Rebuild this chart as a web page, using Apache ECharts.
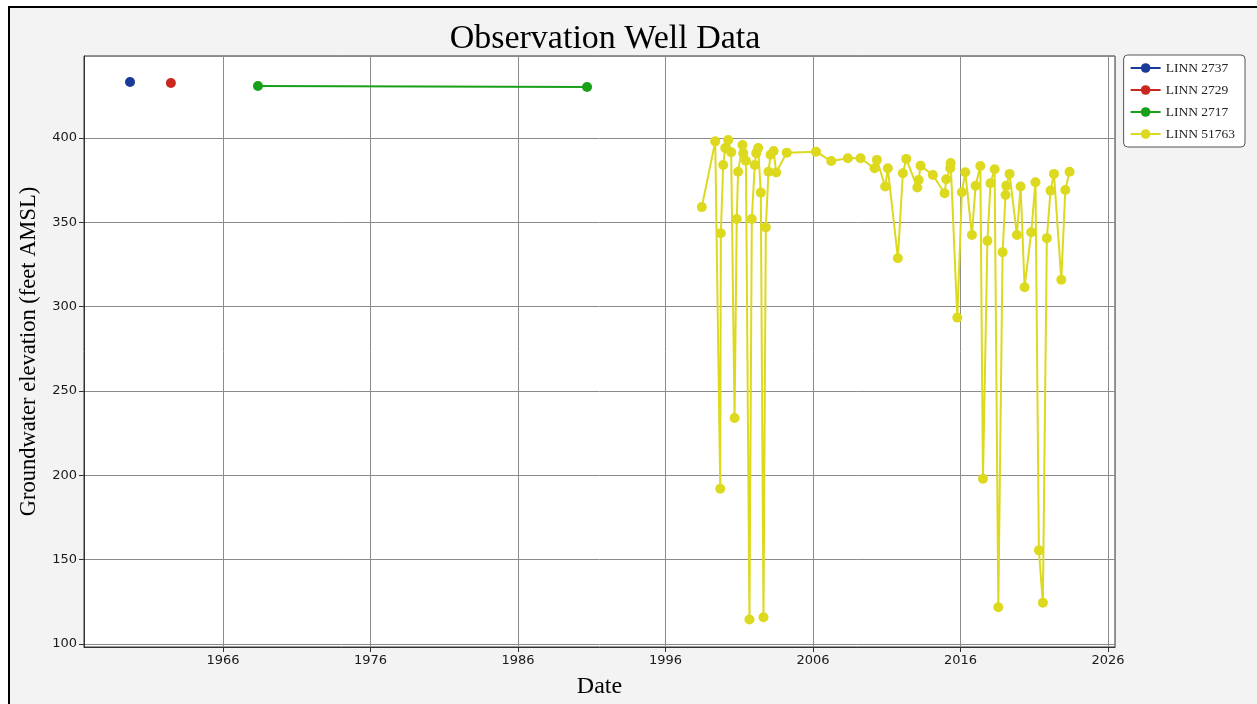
<!DOCTYPE html>
<html>
<head>
<meta charset="utf-8">
<title>Observation Well Data</title>
<script src="https://cdn.jsdelivr.net/npm/echarts@6/dist/echarts.min.js"></script>
<style>
  html, body { margin: 0; padding: 0; background: #fff; }
  #frame {
    position: absolute; left: 8px; top: 6px; width: 1249px; height: 698px;
    border-left: 2px solid #000; border-top: 2px solid #000; background: #f3f3f3;
  }
  #chart { position: absolute; left: 0; top: 0; width: 1257px; height: 704px; }
</style>
</head>
<body>
<div id="frame"></div>
<div id="chart"></div>
<script>
// dates as decimal years, levels in feet AMSL
const well2737Dates = [1959.7];
const well2737Levels = [433.2];

const well2729Dates = [1962.47];
const well2729Levels = [432.6];

const well2717Dates = [1968.37, 1990.68];
const well2717Levels = [430.8, 430.2];

const well51763Dates = [
  1998.46, 1999.37, 1999.71, 1999.75, 1999.91, 2000.05, 2000.25, 2000.45, 2000.68, 2000.83,
  2000.92, 2001.22, 2001.27, 2001.45, 2001.69, 2001.85, 2002.05, 2002.15, 2002.28, 2002.46,
  2002.64, 2002.80, 2002.98, 2003.12, 2003.33, 2003.50, 2004.22, 2006.20, 2007.23, 2008.36,
  2009.22, 2010.17, 2010.33, 2010.89, 2011.07, 2011.75, 2012.09, 2012.32, 2013.07, 2013.16,
  2013.29, 2014.12, 2014.92, 2015.03, 2015.30, 2015.33, 2015.78, 2016.09, 2016.32, 2016.77,
  2017.02, 2017.34, 2017.52, 2017.82, 2018.03, 2018.31, 2018.56, 2018.85, 2019.05, 2019.10,
  2019.32, 2019.82, 2020.07, 2020.34, 2020.79, 2021.08, 2021.31, 2021.58, 2021.85, 2022.10,
  2022.33, 2022.83, 2023.10, 2023.39
];
const well51763Levels = [
  359, 398, 192, 343.5, 384, 394, 398.8, 391.6, 234, 352,
  380, 395.8, 391, 386.5, 114.5, 352, 384, 391, 394, 367.6,
  115.8, 347, 380, 390, 392.3, 379.5, 391.3, 391.9, 386.3, 388,
  388, 382, 387, 371.2, 382, 328.7, 379.1, 387.6, 370.6, 375.1,
  383.6, 378, 367.2, 375.5, 382, 385.2, 293.5, 367.8, 379.7, 342.5,
  371.7, 383.4, 198, 339, 373.2, 381.5, 121.8, 332.3, 366.2, 371.6,
  378.7, 342.5, 371.2, 311.5, 344.1, 373.8, 155.5, 124.4, 340.6, 368.8,
  378.7, 315.9, 369.2, 380
];

const seriesNames = ['LINN 2737', 'LINN 2729', 'LINN 2717', 'LINN 51763'];

// x axis runs in years after BASE_YEAR so the decade ticks land on 1966, 1976, ...
const BASE_YEAR = 1956;
const X_MIN = 1956.58, X_MAX = 2026.47;
const Y_MIN = 98.2, Y_MAX = 448.6;

function pairs(dates, levels) {
  return dates.map((d, i) => [d - BASE_YEAR, levels[i]]);
}

const serif = 'Liberation Serif, Times New Roman, serif';
const sans = 'DejaVu Sans, sans-serif';

function makeSeries(name, color, dates, levels) {
  return {
    name: name,
    type: 'line',
    data: pairs(dates, levels),
    symbol: 'circle',
    symbolSize: 10,
    showAllSymbol: true,
    itemStyle: { color: color },
    lineStyle: { color: color, width: 2 },
    emphasis: { disabled: true },
    animation: false
  };
}

const chart = echarts.init(document.getElementById('chart'));
chart.setOption({
  backgroundColor: 'transparent',
  animation: false,
  title: {
    text: 'Observation Well Data',
    left: 600,
    top: 17,
    textAlign: 'center',
    textStyle: { fontFamily: serif, fontSize: 34, fontWeight: 'normal', color: '#000' }
  },
  legend: {
    data: seriesNames,
    orient: 'vertical',
    right: 12,
    top: 55,
    padding: [6, 10, 6, 6],
    itemGap: 8,
    itemWidth: 30,
    itemHeight: 12,
    backgroundColor: '#fff',
    borderColor: '#555',
    borderWidth: 1,
    borderRadius: 4,
    textStyle: { fontFamily: serif, fontSize: 13.5, color: '#222' }
  },
  grid: {
    left: 84, right: 142, top: 56, bottom: 57,
    show: true, backgroundColor: '#fff', borderColor: '#333', borderWidth: 1
  },
  xAxis: {
    type: 'value',
    min: X_MIN - BASE_YEAR,
    max: X_MAX - BASE_YEAR,
    splitNumber: 7,
    name: 'Date',
    nameLocation: 'middle',
    nameGap: 28,
    nameTextStyle: { fontFamily: serif, fontSize: 24, color: '#000' },
    axisLine: { show: true, lineStyle: { color: '#333', width: 1 } },
    axisTick: { show: true, length: 5, lineStyle: { color: '#333' } },
    axisLabel: {
      showMinLabel: false, showMaxLabel: false,
      fontFamily: sans, fontSize: 13, color: '#1a1a1a', margin: 7,
      formatter: v => String(Math.round(v + BASE_YEAR))
    },
    splitLine: { show: true, lineStyle: { color: '#8a8a8a', width: 1 } }
  },
  yAxis: {
    type: 'value',
    min: Y_MIN,
    max: Y_MAX,
    splitNumber: 7,
    name: 'Groundwater elevation (feet AMSL)',
    nameLocation: 'middle',
    nameGap: 43,
    nameTextStyle: { fontFamily: serif, fontSize: 22.5, color: '#000' },
    axisLine: { show: true, lineStyle: { color: '#333', width: 1 } },
    axisTick: { show: true, length: 5, lineStyle: { color: '#333' } },
    axisLabel: {
      showMinLabel: false, showMaxLabel: false,
      fontFamily: sans, fontSize: 13, color: '#1a1a1a', margin: 7
    },
    splitLine: { show: true, lineStyle: { color: '#8a8a8a', width: 1 } }
  },
  series: [
    makeSeries(seriesNames[0], '#1a3a9a', well2737Dates, well2737Levels),
    makeSeries(seriesNames[1], '#c8281f', well2729Dates, well2729Levels),
    makeSeries(seriesNames[2], '#18a018', well2717Dates, well2717Levels),
    makeSeries(seriesNames[3], '#dcd91f', well51763Dates, well51763Levels)
  ]
});
</script>
</body>
</html>
